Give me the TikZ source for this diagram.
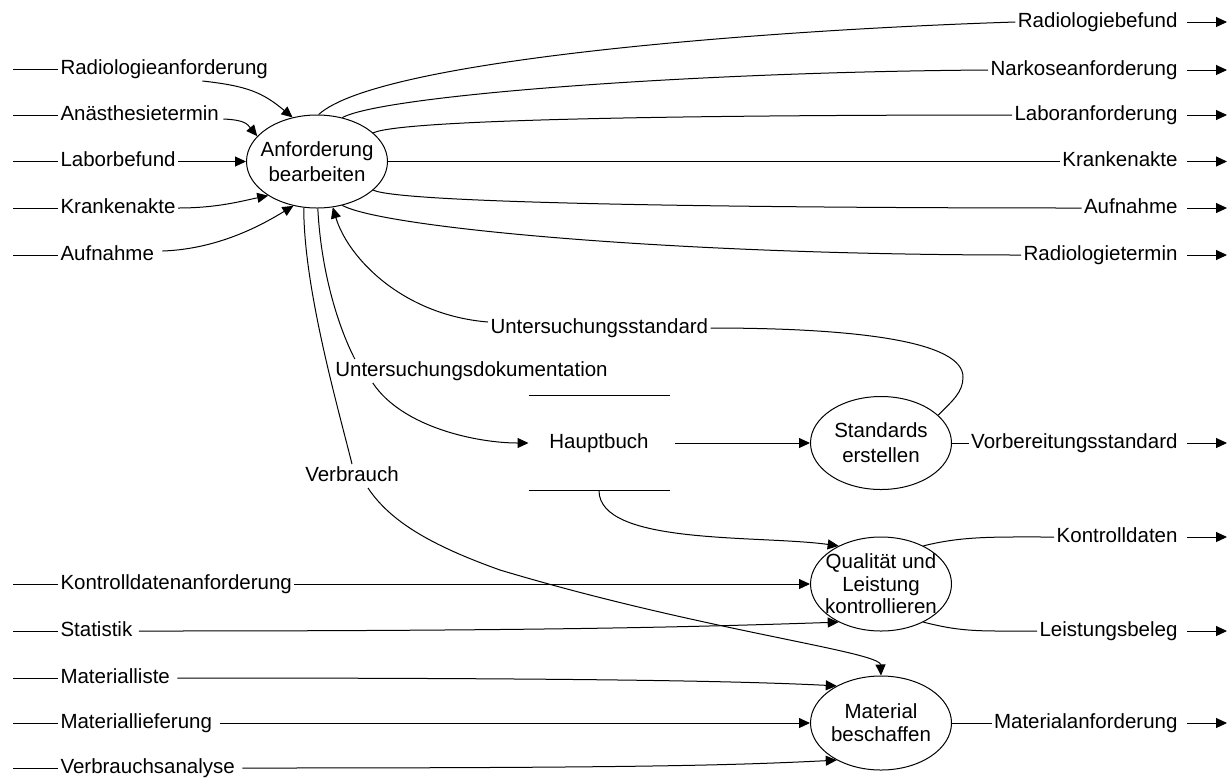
\documentclass[tikz,border=0pt]{standalone}
\usepackage{fontspec}
\setmainfont{Liberation Sans}
\usetikzlibrary{arrows.meta,shapes.geometric}

\begin{document}
\begin{tikzpicture}[x=0.5pt,y=-0.5pt,
  font=\fontsize{10.25}{12}\selectfont,
  line width=0.5pt,
  proc/.style={draw, ellipse, minimum width=70.5pt, minimum height=46.5pt,
    inner xsep=-5pt, inner ysep=0pt, align=center},
  lbl/.style={inner sep=1pt, text height=7.4pt, text depth=2.1pt},
  flow/.style={-{Triangle[length=5.5pt,width=5pt]}},
]
\useasboundingbox (0,0) rectangle (1230,778);

% processes
\node[proc, font=\fontsize{10.25}{12.5}\selectfont] (A) at (317,161.5) {Anforderung\\bearbeiten};
\node[proc, font=\fontsize{10.25}{12.5}\selectfont] (S) at (881,443) {Standards\\erstellen};
\node[proc, minimum height=47pt, font=\fontsize{10.25}{11.25}\selectfont] (Q) at (881,584) {Qualität und\\Leistung\\kontrollieren};
\node[proc, minimum height=47pt, font=\fontsize{10.25}{11.5}\selectfont] (M) at (881,723) {Material\\beschaffen};

% data store
\node[lbl, minimum width=70pt, minimum height=47pt] (hb) at (599,443) {Hauptbuch};
\draw (hb.north west) -- (hb.north east) (hb.south west) -- (hb.south east);

% external inputs on the left
\foreach \nm/\yy/\txt in {rA/69/Radiologieanforderung, aT/115/Anästhesietermin,
    lB/161.5/Laborbefund, kA/208/Krankenakte, aN/255/Aufnahme,
    kD/584/Kontrolldatenanforderung, st/631/Statistik, mL/678/Materialliste,
    mF/723/Materiallieferung, vA/768/Verbrauchsanalyse} {
  \coordinate (\nm0) at (13,\yy);
  \node[lbl, anchor=west] (\nm) at (58,\yy) {\txt};
  \draw (\nm0) -- (\nm.west);
}

% external outputs on the right
\foreach \nm/\yy/\txt in {rB/22/Radiologiebefund, nA/70/Narkoseanforderung,
    lA/115/Laboranforderung, kB/161.5/Krankenakte, aB/208/Aufnahme,
    rT/255/Radiologietermin, vS/443/Vorbereitungsstandard, kO/537/Kontrolldaten,
    lS/631/Leistungsbeleg, mA/723/Materialanforderung} {
  \node[lbl, anchor=east] (\nm) at (1180,\yy) {\txt};
  \coordinate (\nm1) at (1227,\yy);
  \draw[flow] ([xshift=3.5pt]\nm.east) -- (\nm1);
}

% inputs of "Anforderung bearbeiten"
\draw[flow] ([xshift=-34pt]rA.south east) .. controls +(45,5) and +(-30,-25) .. (A.119);
\draw[flow] ([xshift=1pt,yshift=-2pt]aT.east) .. controls +(22,1) and +(-10,-12) .. (A.157);
\draw[flow] (lB.east) -- (A.west);
\draw[flow] (kA.east) .. controls +(40,0) and +(-25,5) .. (A.215);
\draw[flow] ([xshift=3pt,yshift=2pt]aN.east) .. controls +(60,-2) and +(-25,15) .. (A.242);

% outputs of "Anforderung bearbeiten"
\draw (A.88) .. controls +(60,-55) and +(-250,8) .. (rB.west);
\draw (A.60) .. controls +(40,-22) and +(-300,2) .. (nA.west);
\draw (A.27) .. controls +(30,-14) and +(-300,0) .. (lA.west);
\draw (A.east) -- (kB.west);
\draw (A.-27) .. controls +(30,14) and +(-300,0) .. (aB.west);
\draw (A.-60) .. controls +(40,22) and +(-350,0) .. (rT.west);

% Untersuchungsdokumentation into the ledger
\node[lbl] (uD) at (471.5,371) {Untersuchungsdokumentation};
\draw (A.-89) .. controls +(3,60) and +(-18,-35) .. ([xshift=11pt]uD.north west);
\draw[flow] ([xshift=20pt]uD.south west) .. controls +(30,45) and +(-50,0) .. (hb.west);

% Untersuchungsstandard back to the request process
\node[lbl, anchor=west] (uS) at (488,328) {Untersuchungsstandard};
\coordinate (usTurn) at (963,377);
\draw (S.26) .. controls +(15,-15) and +(0,15) .. (usTurn)
  .. controls +(0,-35) and +(150,0) .. (uS.east);
\draw[flow] ([yshift=3pt]uS.west) .. controls +(-86,-7) and +(15,50) .. (A.-71);

% Verbrauch to material procurement
\node[lbl] (vB) at (352,476) {Verbrauch};
\coordinate (vbMid) at (500,570);
\draw (A.-106) .. controls +(0,80) and +(-15,-60) .. (vB.north);
\draw[flow] ([xshift=8pt]vB.south) .. controls +(22,33) and +(-70,-25) .. (vbMid)
  .. controls +(200,60) and +(-1,-24) .. (M.north);

% ledger flows
\draw[flow] ([xshift=2.5pt]hb.east) -- (S.west);
\draw[flow] (hb.south) .. controls +(0,55) and +(-80,-11) .. (Q.138);

% inputs of "Qualität und Leistung kontrollieren"
\draw[flow] (kD.east) -- (Q.west);
\draw[flow] ([xshift=2pt]st.east) .. controls +(400,0) and +(-150,5) .. (Q.222);

% inputs of "Material beschaffen"
\draw[flow] ([xshift=2.5pt]mL.east) .. controls +(400,0) and +(-100,-5) .. (M.140);
\draw[flow] ([xshift=2.5pt]mF.east) -- (M.west);
\draw[flow] ([xshift=2.5pt]vA.east) .. controls +(400,0) and +(-100,5) .. (M.220);

% outputs of the lower processes
\draw (S.east) -- (vS.west);
\draw (Q.42) .. controls +(40,-10) and +(-60,0) .. (kO.west);
\draw (Q.-42) .. controls +(40,10) and +(-60,0) .. (lS.west);
\draw (M.east) -- (mA.west);
\end{tikzpicture}
\end{document}
